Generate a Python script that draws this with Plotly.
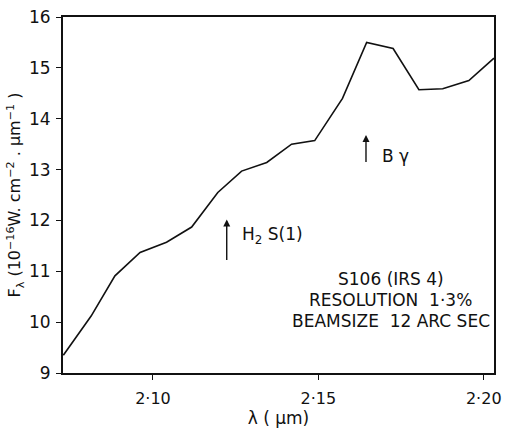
import plotly.graph_objects as go

wavelength = [2.0729, 2.0813, 2.0885, 2.0961, 2.1041, 2.1117, 2.1196, 2.1268,
              2.1344, 2.1419, 2.1489, 2.1573, 2.1646, 2.1726, 2.1804, 2.1876,
              2.1955, 2.2031]
flux = [9.35, 10.12, 10.91, 11.37, 11.57, 11.87, 12.55, 12.97,
        13.14, 13.50, 13.57, 14.40, 15.50, 15.38, 14.57, 14.59,
        14.75, 15.19]

x_tickvals = [2.10, 2.15, 2.20]
x_ticktext = ["2·10", "2·15", "2·20"]
y_tickvals = [9, 10, 11, 12, 13, 14, 15, 16]

line_labels = ["H<sub>2</sub> S(1)", "B γ"]
line_wavelengths = [2.1223, 2.1644]
info_lines = ["S106 (IRS 4)", "RESOLUTION  1·3%", "BEAMSIZE  12 ARC SEC"]

FONT = "DejaVu Sans"
BLACK = "#111111"

fig = go.Figure()
fig.add_trace(go.Scatter(x=wavelength, y=flux, mode="lines",
                         line=dict(color=BLACK, width=1.6), showlegend=False,
                         hoverinfo="skip"))

annotations = []
arrow_ranges = [(11.19, 12.02), (13.12, 13.68)]
label_pos = [(2.1263, 11.70), (2.1686, 13.26)]
for lam, (y0, y1), lab, (lx, ly) in zip(line_wavelengths, arrow_ranges, line_labels, label_pos):
    annotations.append(dict(x=lam, y=y1, ax=lam, ay=y0, xref="x", yref="y",
                            axref="x", ayref="y", showarrow=True, arrowhead=2,
                            arrowsize=1.0, arrowwidth=1.4, arrowcolor=BLACK, text=""))
    annotations.append(dict(x=lx, y=ly, xref="x", yref="y", text=lab, showarrow=False,
                            xanchor="left", yanchor="middle",
                            font=dict(family=FONT, size=17, color=BLACK)))

info_y = [10.85, 10.44, 10.02]
for t, yy in zip(info_lines, info_y):
    annotations.append(dict(x=2.1719, y=yy, xref="x", yref="y", text=t, showarrow=False,
                            xanchor="center", yanchor="middle",
                            font=dict(family=FONT, size=17, color=BLACK)))

axis_common = dict(showline=True, linecolor=BLACK, linewidth=1.8, mirror=True,
                   ticks="outside", ticklen=5, tickwidth=1.4, tickcolor=BLACK,
                   showgrid=False, zeroline=False, automargin=False,
                   ticklabeloverflow="allow")

fig.update_layout(
    width=505, height=430,
    margin=dict(l=63, r=11, t=17, b=57),
    paper_bgcolor="white", plot_bgcolor="white",
    font=dict(family=FONT, color=BLACK),
    xaxis=dict(range=[2.0728, 2.2031], tickvals=x_tickvals, ticktext=x_ticktext,
               tickfont=dict(family=FONT, size=16, color=BLACK),
               title=dict(text="λ ( μm)", font=dict(family=FONT, size=17, color=BLACK),
                          standoff=4),
               ticklabelstandoff=5, **axis_common),
    yaxis=dict(range=[9, 16], tickvals=y_tickvals,
               tickfont=dict(family=FONT, size=17, color=BLACK),
               title=dict(text="F<sub>λ</sub> (10<sup>−16</sup>W. cm<sup>−2</sup> . μm<sup>−1</sup> )",
                          font=dict(family=FONT, size=16, color=BLACK), standoff=4),
               ticklabelstandoff=2, **axis_common),
    annotations=annotations,
)

fig.write_html("out.html", config={"displayModeBar": False},
               post_script="document.body.style.margin='0';document.body.style.overflow='hidden';")
